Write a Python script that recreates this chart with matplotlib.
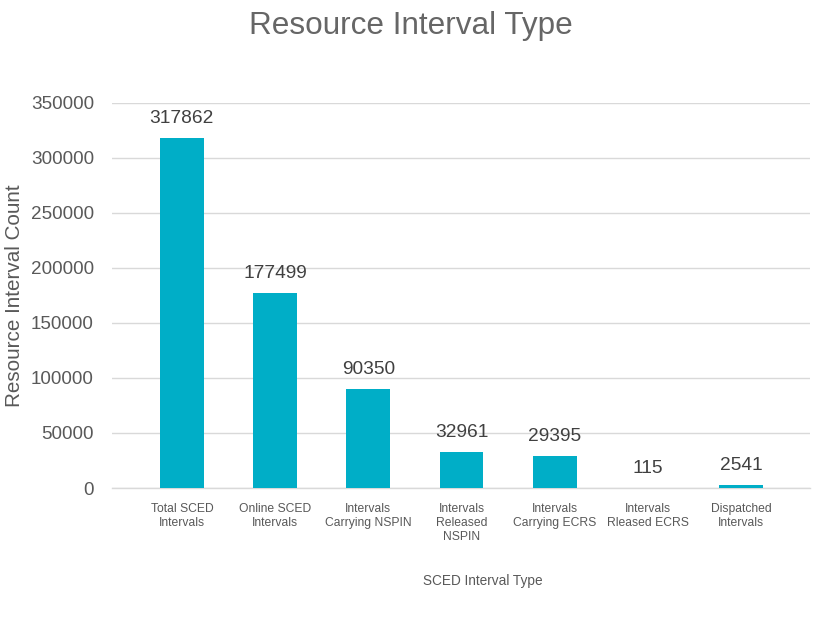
import matplotlib
matplotlib.use('Agg')
import matplotlib.pyplot as plt
import numpy as np

categories = ['Total SCED\nIntervals', 'Online SCED\nIntervals', 'Intervals\nCarrying NSPIN',
              'Intervals\nReleased\nNSPIN', 'Intervals\nCarrying ECRS', 'Intervals\nRleased ECRS',
              'Dispatched\nIntervals']
counts = [317862, 177499, 90350, 32961, 29395, 115, 2541]

plt.rcParams['font.family'] = ['Liberation Sans', 'DejaVu Sans']
textColor = '#595959'
barColor = '#00AEC7'

fig = plt.figure(figsize=(8.26, 6.2), dpi=100)
ax = fig.add_axes([0.1356, 0.2129, 0.845, 0.621])

xValues = np.arange(len(categories))
bars = ax.bar(xValues, counts, width=0.47, color=barColor, zorder=3)

for x, v in zip(xValues, counts):
  ax.annotate(str(v), (x, v), xytext=(0, 8), textcoords='offset points',
              ha='center', va='bottom', fontsize=13.8, color='#404040')

ax.set_xlim(-0.75, 6.74)
ax.set_ylim(0, 350000)
ax.set_yticks(np.arange(0, 350001, 50000))
ax.yaxis.grid(True, color='#d9d9d9', linewidth=1, zorder=0)
ax.set_xticks(xValues)
ax.set_xticklabels(categories, fontsize=8.7, color=textColor, linespacing=1.2)
ax.tick_params(axis='x', length=0, pad=11)
ax.tick_params(axis='y', length=0, pad=13, labelsize=13.6, labelcolor=textColor)

for side in ['top', 'right', 'left']:
  ax.spines[side].set_visible(False)
ax.spines['bottom'].set_color('#d9d9d9')
ax.spines['bottom'].set_linewidth(1)

ax.set_ylabel('Resource Interval Count', fontsize=14.9, color=textColor, labelpad=5)
fig.text(0.584, 0.063, 'SCED Interval Type', ha='center', va='center', fontsize=9.8, color=textColor)
fig.text(0.497, 0.958, 'Resource Interval Type', ha='center', va='center', fontsize=22.7, color='#666666')

plt.savefig('out.png')
plt.close()
